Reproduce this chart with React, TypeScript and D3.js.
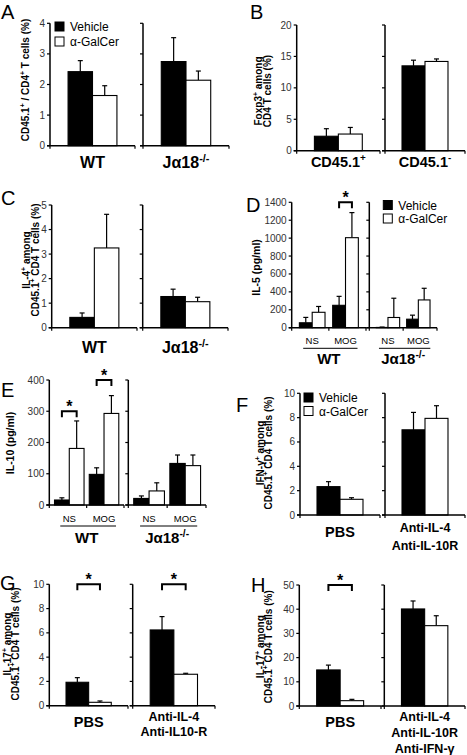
import React, { useLayoutEffect, useRef, useState } from "react";
import * as d3 from "d3";

const FONT = "'Liberation Sans', Arial, Helvetica, sans-serif";

const treatments = ["Vehicle", "α-GalCer"];
const stimuli = ["NS", "MOG"];

// Panel A
const aCategories = ["WT", "Jα18^{-/-}"];
const aVehicle = [2.42, 2.75];
const aVehicleErr = [0.36, 0.78];
const aGalCer = [1.64, 2.14];
const aGalCerErr = [0.32, 0.3];
const aTicks = [0, 1, 2, 3, 4];

// Panel B
const bCategories = ["CD45.1^{+}", "CD45.1^{-}"];
const bVehicle = [2.3, 13.5];
const bVehicleErr = [1.2, 0.9];
const bGalCer = [2.65, 14.2];
const bGalCerErr = [1.05, 0.4];
const bTicks = [0, 5, 10, 15, 20];

// Panel C
const cCategories = ["WT", "Jα18^{-/-}"];
const cVehicle = [0.42, 1.27];
const cVehicleErr = [0.18, 0.3];
const cGalCer = [3.25, 1.06];
const cGalCerErr = [1.37, 0.18];
const cTicks = [0, 1, 2, 3, 4, 5];

// Panel D (rows: WT, Jα18-/-; columns: NS, MOG)
const dCategories = ["WT", "Jα18^{-/-}"];
const dVehicle = [[55, 250], [3, 95]];
const dVehicleErr = [[60, 100], [4, 45]];
const dGalCer = [[172, 1005], [114, 310]];
const dGalCerErr = [[65, 280], [215, 130]];
const dTicks = [0, 200, 400, 600, 800, 1000, 1200, 1400];
const dSig = [{ sub: 0, group: 1, y: 1400 }];

// Panel E
const eCategories = ["WT", "Jα18^{-/-}"];
const eVehicle = [[16, 98], [21, 133]];
const eVehicleErr = [[7, 21], [8, 27]];
const eGalCer = [[181, 293], [45, 126]];
const eGalCerErr = [[88, 57], [26, 34]];
const eTicks = [0, 100, 200, 300, 400];
const eSig = [{ sub: 0, group: 0, y: 300 }, { sub: 0, group: 1, y: 400 }];

// Panel F
const fCategories = [["PBS"], ["Anti-IL-4", "Anti-IL-10R"]];
const fVehicle = [2.33, 7.0];
const fVehicleErr = [0.41, 1.43];
const fGalCer = [1.29, 7.94];
const fGalCerErr = [0.13, 1.04];
const fTicks = [0, 2, 4, 6, 8, 10];

// Panel G
const gCategories = [["PBS"], ["Anti-IL-4", "Anti-IL10-R"]];
const gVehicle = [1.93, 6.24];
const gVehicleErr = [0.38, 1.1];
const gGalCer = [0.28, 2.59];
const gGalCerErr = [0.11, 0.08];
const gTicks = [0, 2, 4, 6, 8, 10];
const gSig = [{ sub: 0, group: 0, y: 10 }, { sub: 1, group: 0, y: 10 }];

// Panel H
const hCategories = [["PBS"], ["Anti-IL-4", "Anti-IL-10R", "Anti-IFN-γ"]];
const hVehicle = [14.9, 40.1];
const hVehicleErr = [2.0, 3.3];
const hGalCer = [2.2, 33.2];
const hGalCerErr = [0.55, 4.1];
const hTicks = [0, 10, 20, 30, 40, 50];
const hSig = [{ sub: 0, group: 0, y: 50 }];

function rich(text: string, size: number) {
  const parts = text.split(/(\^\{[^}]*\})/).filter((p) => p.length);
  return parts.map((p, i) =>
    p.startsWith("^{") ? (
      <tspan key={i} baselineShift={`${(size * 0.4).toFixed(1)}px`} fontSize={size * 0.68}>
        {p.slice(2, -1)}
      </tspan>
    ) : (
      <tspan key={i}>{p}</tspan>
    )
  );
}

// Text centred on (x, y) by measuring its own length (works with mixed-size tspans).
function RichText({
  x, y, size, text, rotate = false,
}: { x: number; y: number; size: number; text: string; rotate?: boolean }) {
  const ref = useRef<SVGTextElement>(null);
  const [w, setW] = useState<number | null>(null);
  useLayoutEffect(() => {
    if (ref.current) setW(ref.current.getComputedTextLength());
  }, [text, size]);
  return (
    <text
      ref={ref}
      transform={`translate(${x},${y})${rotate ? " rotate(-90)" : ""}`}
      x={w === null ? 0 : -w / 2}
      y={0}
      textAnchor="start"
      fontSize={size}
      fontWeight="bold"
      fontFamily={FONT}
      visibility={w === null ? "hidden" : "visible"}
    >
      {rich(text, size)}
    </text>
  );
}

type Sig = { sub: number; group: number; y: number };
type PanelCfg = {
  letter: string;
  lx: number;
  ly: number;
  yTop: number;
  yBot: number;
  ticks: number[];
  subs: [number, number][];
  groups: string[][];
  veh: number[][];
  vehErr: number[][];
  gal: number[][];
  galErr: number[][];
  pad: number;
  cat: string[][];
  catSize: number[];
  catY: number[];
  catLH: number;
  groupLabelY?: number;
  underlineY?: number;
  yLabel: string[];
  yLabelX: number[];
  yLabelCY: number;
  yLabelSize: number;
  sig?: Sig[];
  legend?: { x: number; y: number; gap: number };
};

function Panel({ p }: { p: PanelCfg }) {
  const y = d3
    .scaleLinear()
    .domain([0, p.ticks[p.ticks.length - 1]])
    .range([p.yBot, p.yTop]);
  const tl = 3;
  return (
    <g>
      <text x={p.lx} y={p.ly} fontSize={20} fontFamily={FONT}>
        {p.letter}
      </text>
      {p.yLabel.map((line, i) => (
        <RichText key={i} x={p.yLabelX[i]} y={p.yLabelCY} size={p.yLabelSize} text={line} rotate />
      ))}
      {p.subs.map((s, si) => {
        const outer = d3
          .scaleBand<string>()
          .domain(p.groups[si])
          .range(s)
          .paddingInner(p.pad)
          .paddingOuter(p.pad);
        const bw = outer.bandwidth();
        const inner = d3.scaleBand<string>().domain(treatments).range([0, bw]);
        const ibw = inner.bandwidth();
        const xTicks = [s[0], s[1]];
        const gs = p.groups[si];
        for (let k = 1; k < gs.length; k++) {
          xTicks.push(((outer(gs[k - 1]) as number) + bw + (outer(gs[k]) as number)) / 2);
        }
        const cx = (s[0] + s[1]) / 2;
        return (
          <g key={si}>
            {gs.map((g, gi) =>
              treatments.map((t, ti) => {
                const v = ti === 0 ? p.veh[si][gi] : p.gal[si][gi];
                const e = ti === 0 ? p.vehErr[si][gi] : p.galErr[si][gi];
                const x = (outer(g) as number) + (inner(t) as number);
                const xm = x + ibw / 2;
                return (
                  <g key={g + t}>
                    <line x1={xm} x2={xm} y1={y(v)} y2={y(v + e)} stroke="#000" strokeWidth={1.2} />
                    <line x1={xm - 2.5} x2={xm + 2.5} y1={y(v + e)} y2={y(v + e)} stroke="#000" strokeWidth={1.2} />
                    <rect
                      x={x}
                      y={y(v)}
                      width={ibw}
                      height={y(0) - y(v)}
                      fill={ti === 0 ? "#000" : "#fff"}
                      stroke="#000"
                      strokeWidth={1.1}
                    />
                  </g>
                );
              })
            )}
            <line x1={s[0]} x2={s[0]} y1={p.yTop} y2={p.yBot} stroke="#000" strokeWidth={1.5} />
            {p.ticks.map((t) => (
              <g key={t}>
                <line x1={s[0] - tl} x2={s[0]} y1={y(t)} y2={y(t)} stroke="#000" strokeWidth={1.2} />
                {si === 0 && (
                  <text
                    x={s[0] - 5}
                    y={y(t)}
                    dy="0.35em"
                    textAnchor="end"
                    fontSize={10}
                    fill="#333"
                    fontFamily={FONT}
                  >
                    {t}
                  </text>
                )}
              </g>
            ))}
            <line x1={s[0] - tl} x2={s[1]} y1={p.yBot} y2={p.yBot} stroke="#000" strokeWidth={1.5} />
            {xTicks.map((xt, k) => (
              <line key={k} x1={xt} x2={xt} y1={p.yBot} y2={p.yBot + tl} stroke="#000" strokeWidth={1.2} />
            ))}
            {p.groupLabelY !== undefined &&
              gs.map((g) => (
                <text
                  key={g}
                  x={(outer(g) as number) + bw / 2}
                  y={p.groupLabelY}
                  textAnchor="middle"
                  fontSize={9.5}
                  fontFamily={FONT}
                >
                  {g}
                </text>
              ))}
            {p.underlineY !== undefined && (
              <line
                x1={(outer(gs[0]) as number) + bw / 2 - 9}
                x2={(outer(gs[gs.length - 1]) as number) + bw / 2 + 12}
                y1={p.underlineY}
                y2={p.underlineY}
                stroke="#000"
                strokeWidth={1}
              />
            )}
            {p.cat[si].map((line, li) => (
              <RichText
                key={li}
                x={cx}
                y={p.catY[si] + li * p.catLH}
                size={p.catSize[si]}
                text={line}
              />
            ))}
            {(p.sig || [])
              .filter((sg) => sg.sub === si)
              .map((sg, k) => {
                const g = gs[sg.group];
                const x0 = (outer(g) as number) + (inner(treatments[0]) as number) + ibw / 2;
                const x1 = (outer(g) as number) + (inner(treatments[1]) as number) + ibw / 2;
                const yt = y(sg.y);
                return (
                  <g key={k}>
                    <path
                      d={`M${x0},${yt + 6}V${yt}H${x1}V${yt + 6}`}
                      fill="none"
                      stroke="#000"
                      strokeWidth={2}
                    />
                    <text
                      x={(x0 + x1) / 2}
                      y={yt + 0.5}
                      textAnchor="middle"
                      fontSize={16}
                      fontWeight="bold"
                      fontFamily={FONT}
                    >
                      *
                    </text>
                  </g>
                );
              })}
          </g>
        );
      })}
      {p.legend &&
        treatments.map((t, i) => (
          <g key={t}>
            <rect
              x={p.legend!.x}
              y={p.legend!.y + i * p.legend!.gap}
              width={9}
              height={9}
              fill={i === 0 ? "#000" : "#fff"}
              stroke="#000"
              strokeWidth={1}
            />
            <text
              x={p.legend!.x + 15}
              y={p.legend!.y + i * p.legend!.gap + 9}
              fontSize={12}
              fontFamily={FONT}
            >
              {t}
            </text>
          </g>
        ))}
    </g>
  );
}

const wrap = (a: number[]) => a.map((v) => [v]);

const panels: PanelCfg[] = [
  {
    letter: "A", lx: 1, ly: 18.5, yTop: 23.3, yBot: 145.7, ticks: aTicks,
    subs: [[50, 135], [143, 229]], groups: [[aCategories[0]], [aCategories[1]]],
    veh: wrap(aVehicle), vehErr: wrap(aVehicleErr), gal: wrap(aGalCer), galErr: wrap(aGalCerErr),
    pad: 0.27, cat: [[aCategories[0]], [aCategories[1]]], catSize: [16, 16], catY: [168, 168], catLH: 0,
    yLabel: ["CD45.1^{+} / CD4^{+} T cells (%)"], yLabelX: [28.5], yLabelCY: 80, yLabelSize: 10,
    legend: { x: 55, y: 22, gap: 15 },
  },
  {
    letter: "B", lx: 250, ly: 18.5, yTop: 25, yBot: 150.7, ticks: bTicks,
    subs: [[296.7, 380], [385, 465]], groups: [[bCategories[0]], [bCategories[1]]],
    veh: wrap(bVehicle), vehErr: wrap(bVehicleErr), gal: wrap(bGalCer), galErr: wrap(bGalCerErr),
    pad: 0.27, cat: [[bCategories[0]], [bCategories[1]]], catSize: [14.5, 14.5], catY: [166.5, 166.5], catLH: 0,
    yLabel: ["Foxp3^{+} among", "CD4 T cells (%)"], yLabelX: [262, 271], yLabelCY: 91, yLabelSize: 10,
  },
  {
    letter: "C", lx: 1, ly: 205, yTop: 205, yBot: 327.7, ticks: cTicks,
    subs: [[51.7, 137], [142.7, 228]], groups: [[cCategories[0]], [cCategories[1]]],
    veh: wrap(cVehicle), vehErr: wrap(cVehicleErr), gal: wrap(cGalCer), galErr: wrap(cGalCerErr),
    pad: 0.27, cat: [[cCategories[0]], [cCategories[1]]], catSize: [16, 16], catY: [353, 353], catLH: 0,
    yLabel: ["IL-4^{+} among", "CD45.1^{+} CD4 T cells (%)"], yLabelX: [30, 39], yLabelCY: 260, yLabelSize: 10,
  },
  {
    letter: "D", lx: 246, ly: 211.7, yTop: 202.3, yBot: 327.7, ticks: dTicks,
    subs: [[291.7, 366], [369.3, 437]], groups: [stimuli, stimuli],
    veh: dVehicle, vehErr: dVehicleErr, gal: dGalCer, galErr: dGalCerErr,
    pad: 0.23, cat: [[dCategories[0]], [dCategories[1]]], catSize: [15, 15], catY: [364, 364], catLH: 0,
    groupLabelY: 344.3, underlineY: 348.3,
    yLabel: ["IL-5 (pg/ml)"], yLabelX: [260], yLabelCY: 267.5, yLabelSize: 10.5,
    sig: dSig, legend: { x: 383.3, y: 200.5, gap: 13.5 },
  },
  {
    letter: "E", lx: 1, ly: 396.7, yTop: 380, yBot: 505, ticks: eTicks,
    subs: [[49.3, 124], [128.3, 206]], groups: [stimuli, stimuli],
    veh: eVehicle, vehErr: eVehicleErr, gal: eGalCer, galErr: eGalCerErr,
    pad: 0.15, cat: [[eCategories[0]], [eCategories[1]]], catSize: [15, 15], catY: [542.5, 542.5], catLH: 0,
    groupLabelY: 521.7, underlineY: 526,
    yLabel: ["IL-10 (pg/ml)"], yLabelX: [14], yLabelCY: 443, yLabelSize: 10.5,
    sig: eSig,
  },
  {
    letter: "F", lx: 236, ly: 411.7, yTop: 393.3, yBot: 515, ticks: fTicks,
    subs: [[300, 380], [385, 465]], groups: [["PBS"], ["Anti"]],
    veh: wrap(fVehicle), vehErr: wrap(fVehicleErr), gal: wrap(fGalCer), galErr: wrap(fGalCerErr),
    pad: 0.27, cat: fCategories, catSize: [14.5, 12.5], catY: [536.7, 531.7], catLH: 18,
    yLabel: ["IFN-γ^{+} among", "CD45.1^{+} CD4 T cells (%)"], yLabelX: [264, 272], yLabelCY: 453, yLabelSize: 10,
    legend: { x: 304, y: 393, gap: 13.5 },
  },
  {
    letter: "G", lx: 0, ly: 590, yTop: 584.3, yBot: 705.7, ticks: gTicks,
    subs: [[49.3, 128], [132.7, 215]], groups: [["PBS"], ["Anti"]],
    veh: wrap(gVehicle), vehErr: wrap(gVehicleErr), gal: wrap(gGalCer), galErr: wrap(gGalCerErr),
    pad: 0.27, cat: gCategories, catSize: [14.5, 12.5], catY: [726.7, 720.7], catLH: 15,
    yLabel: ["IL-17^{+} among", "CD45.1^{+} CD4 T cells (%)"], yLabelX: [10.5, 19], yLabelCY: 644, yLabelSize: 10,
    sig: gSig,
  },
  {
    letter: "H", lx: 251, ly: 591.7, yTop: 585, yBot: 706, ticks: hTicks,
    subs: [[299.3, 381], [384.3, 465]], groups: [["PBS"], ["Anti"]],
    veh: wrap(hVehicle), vehErr: wrap(hVehicleErr), gal: wrap(hGalCer), galErr: wrap(hGalCerErr),
    pad: 0.27, cat: hCategories, catSize: [14.5, 12.5], catY: [727.3, 721], catLH: 15.8,
    yLabel: ["IL-17^{+} among", "CD45.1^{+} CD4 T cells (%)"], yLabelX: [264, 272], yLabelCY: 646.7, yLabelSize: 10,
    sig: hSig,
  },
];

export default function App() {
  return (
    <svg
      width={467}
      height={755}
      viewBox="0 0 467 755"
      style={{ position: "absolute", left: 0, top: 0, background: "#fff" }}
    >
      <rect width={467} height={755} fill="#fff" />
      {panels.map((p) => (
        <Panel key={p.letter} p={p} />
      ))}
    </svg>
  );
}
